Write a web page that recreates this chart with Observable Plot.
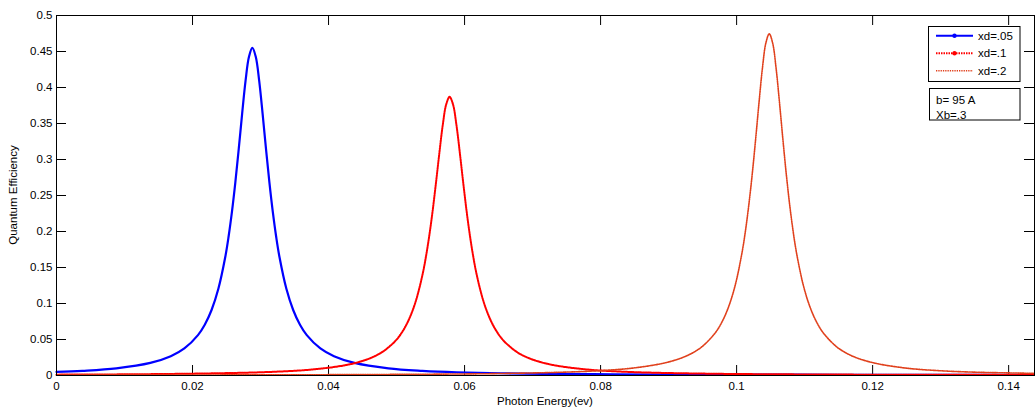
<!DOCTYPE html>
<html><head><meta charset="utf-8">
<script src="https://cdn.jsdelivr.net/npm/d3@7"></script>
<script src="https://cdn.jsdelivr.net/npm/@observablehq/plot@0.6"></script>
<style>
body{margin:0;background:#fff;}
#chart{width:1035px;height:410px;}
svg{font-family:"Liberation Sans",Arial,sans-serif;}
</style>
</head><body><div id="chart"></div>
<script>
// ---- data ----
const seriesNames = ["xd=.05", "xd=.1", "xd=.2"];
const infoLines = ["b= 95 A", "Xb=.3"];
const xLabel = "Photon Energy(ev)";
const yLabel = "Quantum Efficiency";
const xTicks = [0, 0.02, 0.04, 0.06, 0.08, 0.1, 0.12, 0.14];
const yTicks = [0, 0.05, 0.1, 0.15, 0.2, 0.25, 0.3, 0.35, 0.4, 0.45, 0.5];
const xDomain = [0, 0.1438];
const yDomain = [0, 0.5];

const energyA = [0, 0.0038, 0.0088, 0.0138, 0.0168, 0.0188, 0.0208, 0.0218, 0.0228, 0.0238, 0.0248, 0.0253, 0.0258, 0.0263, 0.0268, 0.0273, 0.0278, 0.0283, 0.0288, 0.0293, 0.0298, 0.0303, 0.0308, 0.0313, 0.0318, 0.0323, 0.0328, 0.0338, 0.0348, 0.0358, 0.0368, 0.0388, 0.0408, 0.0438, 0.0488, 0.0538, 0.0588, 0.0688, 0.0788, 0.0888, 0.1088, 0.1288, 0.1438];
const qeA = [0.0049, 0.0065, 0.0100, 0.0175, 0.0268, 0.0376, 0.0561, 0.0705, 0.091, 0.1204, 0.1638, 0.1927, 0.2275, 0.2685, 0.315, 0.364, 0.4095, 0.4427, 0.455, 0.4427, 0.4095, 0.364, 0.315, 0.2685, 0.2275, 0.1927, 0.1638, 0.1204, 0.091, 0.0705, 0.0561, 0.0376, 0.0268, 0.0175, 0.0100, 0.0065, 0.0045, 0.0026, 0.0018, 0.0014, 0.0011, 0.0009, 0.0008];

const energyB = [0, 0.0078, 0.0178, 0.0278, 0.0328, 0.0378, 0.0428, 0.0458, 0.0478, 0.0498, 0.0508, 0.0518, 0.0528, 0.0538, 0.0543, 0.0548, 0.0553, 0.0558, 0.0563, 0.0568, 0.0573, 0.0578, 0.0583, 0.0588, 0.0593, 0.0598, 0.0603, 0.0608, 0.0613, 0.0618, 0.0628, 0.0638, 0.0648, 0.0658, 0.0678, 0.0698, 0.0728, 0.0778, 0.0828, 0.0878, 0.0978, 0.1078, 0.1178, 0.1438];
const qeB = [0.0012, 0.0015, 0.0023, 0.0039, 0.0055, 0.0085, 0.0149, 0.0228, 0.032, 0.0477, 0.060, 0.0774, 0.1024, 0.1393, 0.1639, 0.1935, 0.2283, 0.2678, 0.3096, 0.3483, 0.3766, 0.387, 0.3766, 0.3483, 0.3096, 0.2678, 0.2283, 0.1935, 0.1639, 0.1393, 0.1024, 0.0774, 0.060, 0.0477, 0.032, 0.0228, 0.0149, 0.0085, 0.0055, 0.0039, 0.0023, 0.0016, 0.0012, 0.0008];

const energyC = [0, 0.0148, 0.0348, 0.0548, 0.0648, 0.0748, 0.0798, 0.0848, 0.0898, 0.0928, 0.0948, 0.0968, 0.0978, 0.0988, 0.0998, 0.1008, 0.1013, 0.1018, 0.1023, 0.1028, 0.1033, 0.1038, 0.1043, 0.1048, 0.1053, 0.1058, 0.1063, 0.1068, 0.1073, 0.1078, 0.1083, 0.1088, 0.1098, 0.1108, 0.1118, 0.1128, 0.1148, 0.1168, 0.1198, 0.1248, 0.1298, 0.1348, 0.1438];
const qeC = [0.0006, 0.0007, 0.0010, 0.0018, 0.0027, 0.0047, 0.0067, 0.0104, 0.0183, 0.0279, 0.0392, 0.0585, 0.0735, 0.0949, 0.1256, 0.1708, 0.201, 0.2373, 0.280, 0.3284, 0.3796, 0.4271, 0.4617, 0.4745, 0.4617, 0.4271, 0.3796, 0.3284, 0.280, 0.2373, 0.201, 0.1708, 0.1256, 0.0949, 0.0735, 0.0585, 0.0392, 0.0279, 0.0183, 0.0104, 0.0067, 0.0047, 0.0030];

// ---- build ----
const rows = (xs, ys, s) => xs.map((x, i) => ({series: s, x, y: ys[i]}));
const dataA = rows(energyA, qeA, seriesNames[0]);
const dataB = rows(energyB, qeB, seriesNames[1]);
const dataC = rows(energyC, qeC, seriesNames[2]);

const W = 1035, H = 410, mL = 56, mR = 1, mT = 15, mB = 35;
const tickPx = 10;
const tyLen = tickPx * (yDomain[1] - yDomain[0]) / (H - mT - mB);
const txLen = tickPx * (xDomain[1] - xDomain[0]) / (W - mL - mR);
const fmt = d => String(+d.toFixed(3));

const colA = "#0000ff", colB = "#ff0000", colC = "#e0401c";
const dashB = "1.5,1", dashC = "1.3,1";

const plot = Plot.plot({
  width: W, height: H,
  marginLeft: mL, marginRight: mR, marginTop: mT, marginBottom: mB,
  style: {fontFamily: '"Liberation Sans", Arial, sans-serif', fontSize: "11.5px", background: "#fff", color: "#000"},
  x: {domain: xDomain},
  y: {domain: yDomain},
  marks: [
    Plot.axisX(xTicks, {tickSize: 0, tickPadding: 6, tickFormat: fmt, label: null, fill: "#000"}),
    Plot.axisY(yTicks, {tickSize: 0, tickPadding: 4, tickFormat: fmt, label: null, fill: "#000"}),
    // inward ticks on all four sides
    Plot.ruleX(xTicks, {x: d => d, y1: yDomain[0], y2: yDomain[0] + tyLen, stroke: "#000"}),
    Plot.ruleX(xTicks, {x: d => d, y1: yDomain[1], y2: yDomain[1] - tyLen, stroke: "#000"}),
    Plot.ruleY(yTicks, {y: d => d, x1: xDomain[0], x2: xDomain[0] + txLen, stroke: "#000"}),
    Plot.ruleY(yTicks, {y: d => d, x1: xDomain[1], x2: xDomain[1] - txLen, stroke: "#000"}),
    Plot.line(dataA, {x: "x", y: "y", stroke: colA, strokeWidth: 2.2, curve: "catmull-rom"}),
    Plot.line(dataB, {x: "x", y: "y", stroke: colB, strokeWidth: 2, strokeDasharray: dashB, curve: "catmull-rom"}),
    Plot.line(dataC, {x: "x", y: "y", stroke: colC, strokeWidth: 1.6, strokeDasharray: dashC, curve: "catmull-rom"}),
    Plot.frame({stroke: "#000", strokeWidth: 1})
  ]
});
document.getElementById("chart").appendChild(plot);

// ---- axis titles and in-plot legend ----
const svg = d3.select(plot);
svg.append("text").attr("x", (mL + W - mR) / 2).attr("y", 405)
  .attr("text-anchor", "middle").attr("font-size", "11.5px").attr("fill", "#000").text(xLabel);
svg.append("text").attr("transform", `translate(17,${(mT + H - mB) / 2}) rotate(-90)`)
  .attr("text-anchor", "middle").attr("font-size", "11.5px").attr("fill", "#000").text(yLabel);

const leg = svg.append("g").attr("text-anchor", "start");
leg.append("rect").attr("x", 928.5).attr("y", 26.5).attr("width", 91.5).attr("height", 55)
  .attr("fill", "#fff").attr("stroke", "#000");
const legendStyles = [
  {stroke: colA, dash: null, width: 2, marker: true},
  {stroke: colB, dash: dashB, width: 2, marker: true},
  {stroke: colC, dash: dashC, width: 1.6, marker: false}
];
const rowY = [35.7, 53.3, 70.7];
seriesNames.forEach((name, i) => {
  const s = legendStyles[i];
  const ln = leg.append("line").attr("x1", 936).attr("x2", 973).attr("y1", rowY[i]).attr("y2", rowY[i])
    .attr("stroke", s.stroke).attr("stroke-width", s.width);
  if (s.dash) ln.attr("stroke-dasharray", s.dash);
  if (s.marker) leg.append("circle").attr("cx", 954.5).attr("cy", rowY[i]).attr("r", 2.2).attr("fill", s.stroke);
  leg.append("text").attr("x", 978).attr("y", rowY[i]).attr("dy", "0.35em").attr("text-anchor", "start")
    .attr("font-size", "11.5px").attr("fill", "#000").text(name);
});
leg.append("rect").attr("x", 929.5).attr("y", 88.5).attr("width", 90.5).attr("height", 31.5)
  .attr("fill", "#fff").attr("stroke", "#000");
infoLines.forEach((t, i) => {
  leg.append("text").attr("x", 936).attr("y", [99.5, 114.5][i]).attr("dy", "0.35em").attr("text-anchor", "start")
    .attr("font-size", "11.5px").attr("fill", "#000").text(t);
});
</script>
</body></html>
